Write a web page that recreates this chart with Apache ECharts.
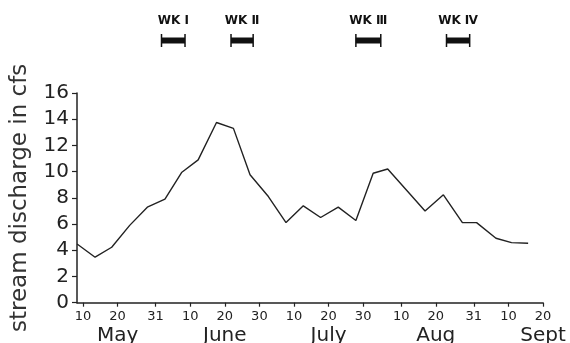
<!DOCTYPE html>
<html>
<head>
<meta charset="utf-8">
<script src="https://cdn.jsdelivr.net/npm/echarts@6/dist/echarts.min.js"></script>
<style>
  html, body { margin: 0; padding: 0; background: #fff; }
  #chart { width: 570px; height: 343px; }
</style>
</head>
<body>
<div id="chart"></div>
<script>
// Day numbers count from 30 April (1 May = day 1).
const sampleDays = [8.3, 13.5, 18.3, 23.5, 28.6, 33.7, 38.5, 43.3, 48.6, 53.5, 58.3, 63.6, 68.7,
  73.7, 78.7, 83.8, 88.9, 93.9, 98.1, 103.5, 108.9, 114.2, 119.7, 123.8, 129.4, 133.9, 138.7];
const discharge = [4.48, 3.47, 4.23, 5.9, 7.29, 7.9, 9.93, 10.9, 13.75, 13.3, 9.76, 8.1, 6.11,
  7.39, 6.5, 7.29, 6.27, 9.88, 10.2, 8.6, 7.0, 8.23, 6.11, 6.11, 4.92, 4.58, 4.54];

// x-axis ticks: day position, day-of-month label, month name shown under it
const tickDays   = [10, 20, 31, 41, 51, 61, 71, 81, 91, 102, 112, 123, 133, 143];
const tickLabels = ['10', '20', '31', '10', '20', '30', '10', '20', '30', '10', '20', '31', '10', '20'];
const monthAt    = { 20: 'May', 51: 'June', 81: 'July', 112: 'Aug', 143: 'Sept' };

const yTicks = [0, 2, 4, 6, 8, 10, 12, 14, 16];

// sampling weeks
const weekStart  = [32.7, 52.8, 88.9, 115.1];
const weekEnd    = [39.5, 59.2, 96.1, 121.8];
const weekLabels = ['WK \u2160', 'WK \u2161', 'WK \u2162', 'WK \u2163'];

const X_MIN = 8.27, X_MAX = 143;
const FONT = 'DejaVu Sans';
const INK = '#222';

const chart = echarts.init(document.getElementById('chart'), null, { renderer: 'canvas' });

chart.setOption({
  backgroundColor: '#fff',
  animation: false,
  grid: [
    { left: 77, right: 27, top: 93, bottom: 40.3, outerBoundsMode: 'none', containLabel: false },
    { left: 77, right: 27, top: 0, height: 60, outerBoundsMode: 'none', containLabel: false }
  ],
  xAxis: [
    {
      type: 'value', gridIndex: 0, min: X_MIN, max: X_MAX,
      splitLine: { show: false },
      axisLine: { show: true, lineStyle: { color: INK, width: 1.5 } },
      axisTick: { show: true, length: 4, customValues: tickDays, lineStyle: { color: INK, width: 1.2 } },
      axisLabel: {
        customValues: tickDays,
        margin: 6,
        formatter: v => {
          const i = tickDays.indexOf(v);
          const d = i >= 0 ? tickLabels[i] : '';
          return monthAt[v] ? '{d|' + d + '}\n{m|' + monthAt[v] + '}' : '{d|' + d + '}';
        },
        rich: {
          d: { fontFamily: FONT, fontSize: 13, color: INK, lineHeight: 15 },
          m: { fontFamily: FONT, fontSize: 20, color: INK, lineHeight: 24 }
        }
      }
    },
    { type: 'value', gridIndex: 1, min: X_MIN, max: X_MAX, show: false }
  ],
  yAxis: [
    {
      type: 'value', gridIndex: 0, min: 0, max: 16, interval: 2,
      name: 'stream discharge in cfs',
      nameLocation: 'middle', nameGap: 45, nameRotate: 90,
      nameTextStyle: { fontFamily: FONT, fontSize: 23, color: '#333' },
      splitLine: { show: false },
      axisLine: { show: true, lineStyle: { color: INK, width: 1.5 } },
      axisTick: { show: true, length: 5, lineStyle: { color: INK, width: 1.2 } },
      axisLabel: {
        margin: 8, fontFamily: FONT, fontSize: 20, color: INK,
        formatter: v => yTicks.includes(v) ? String(v) : ''
      }
    },
    { type: 'value', gridIndex: 1, min: 0, max: 60, inverse: true, show: false }
  ],
  series: [
    {
      type: 'line',
      xAxisIndex: 0, yAxisIndex: 0,
      data: sampleDays.map((d, i) => [d, discharge[i]]),
      symbol: 'none',
      lineStyle: { color: INK, width: 1.4 }
    },
    {
      type: 'custom',
      xAxisIndex: 1, yAxisIndex: 1,
      data: weekStart.map((s, i) => [s, weekEnd[i]]),
      encode: { x: [0, 1] },
      renderItem: (params, api) => {
        const a = api.coord([api.value(0), 40.5]);
        const b = api.coord([api.value(1), 40.5]);
        const cx = (a[0] + b[0]) / 2;
        return {
          type: 'group',
          children: [
            { type: 'rect', shape: { x: a[0], y: a[1] - 3, width: b[0] - a[0], height: 6 },
              style: { fill: '#111' } },
            { type: 'line', shape: { x1: a[0], y1: a[1] - 6.5, x2: a[0], y2: a[1] + 6.5 },
              style: { stroke: '#111', lineWidth: 1.5 } },
            { type: 'line', shape: { x1: b[0], y1: b[1] - 6.5, x2: b[0], y2: b[1] + 6.5 },
              style: { stroke: '#111', lineWidth: 1.5 } },
            { type: 'text', x: cx, y: 21,
              style: { text: weekLabels[params.dataIndex], fontFamily: FONT, fontSize: 12,
                       fontWeight: 'bold', fill: '#111', align: 'center', verticalAlign: 'middle' } }
          ]
        };
      }
    }
  ]
});
</script>
</body>
</html>
